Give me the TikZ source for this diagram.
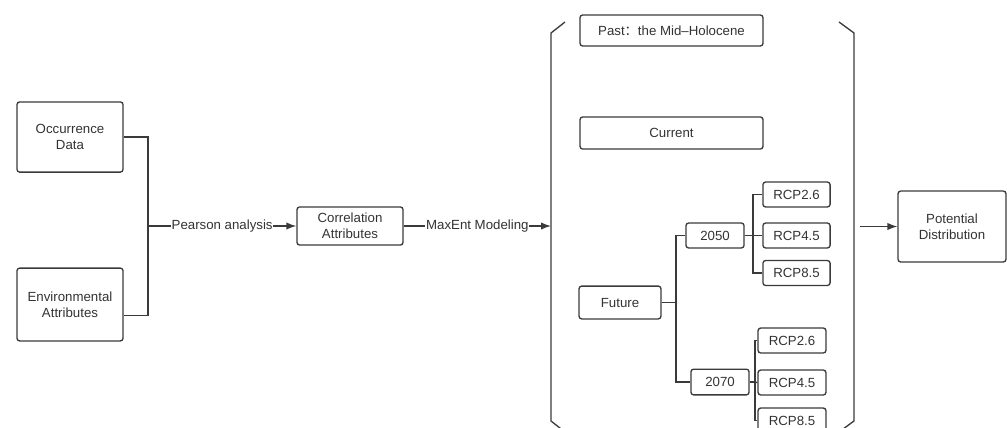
\documentclass[tikz,border=0pt]{standalone}
\usepackage{fontspec}
\setmainfont{Liberation Sans}
\newfontfamily\cjk{Noto Sans CJK SC}
\usetikzlibrary{arrows.meta,calc}
\definecolor{LineClr}{HTML}{3A3A3A}
\definecolor{TextClr}{HTML}{333333}

\begin{document}
\begin{tikzpicture}[x=0.0265cm,y=-0.0265cm,
  line width=1pt,color=LineClr,
  box/.style={draw=LineClr,rounded corners=2pt,align=center,text=TextClr,
    inner sep=0pt,font=\fontsize{10}{12}\selectfont},
  lbl/.style={fill=white,inner sep=0.5pt,text=TextClr,font=\fontsize{10}{12}\selectfont},
  arr/.style={-{Latex[length=7.5pt,width=5.5pt]}}]
\clip (0,0) rectangle (1007,427);

% inputs
\node[box,minimum width=2.81cm,minimum height=1.86cm] (occ) at (70,137) {Occurrence\\Data};
\node[box,minimum width=2.81cm,minimum height=1.93cm] (env) at (70,304.5) {Environmental\\Attributes};
\node[box,minimum width=2.81cm,minimum height=1.01cm] (corr) at (350,226) {Correlation\\Attributes};

\coordinate (join) at (148,226);
\coordinate (brL) at (551,226);
\coordinate (brR) at (860,226.5);

\draw (occ.east) -| (join);
\draw ([yshift=-0.3cm]env.east) -| (join);
\draw[arr] (join) -- node[lbl]{Pearson analysis} (corr.west);
\draw[arr] (corr.east) -- node[lbl]{MaxEnt Modeling} (brL);

% scenarios
\draw (565,22) -- (551,33) -- (551,421) -- (565,432);
\draw (839,22) -- (854,33) -- (854,421) -- (839,432);

\node[box,minimum width=4.85cm,minimum height=0.82cm] (past) at (671.5,30.5) {Past{\cjk ：}the Mid--Holocene};
\node[box,minimum width=4.85cm,minimum height=0.85cm] (cur) at (671.5,133) {Current};
\node[box,minimum width=2.17cm,minimum height=0.87cm] (fut) at (620,302.5) {Future};

\node[box,minimum width=1.54cm,minimum height=0.66cm] (y50) at (715,235.5) {2050};
\node[box,minimum width=1.54cm,minimum height=0.68cm] (y70) at (720,382) {2070};

\node[box,minimum width=1.78cm,minimum height=0.66cm] (r50a) at (796.5,194.5) {RCP2.6};
\node[box,minimum width=1.78cm,minimum height=0.66cm] (r50b) at (796.5,235.5) {RCP4.5};
\node[box,minimum width=1.78cm,minimum height=0.66cm] (r50c) at (796.5,273) {RCP8.5};

\node[box,minimum width=1.8cm,minimum height=0.66cm] (r70a) at (792,340.5) {RCP2.6};
\node[box,minimum width=1.8cm,minimum height=0.66cm] (r70b) at (792,382.5) {RCP4.5};
\node[box,minimum width=1.8cm,minimum height=0.66cm] (r70c) at (792,420.5) {RCP8.5};

\coordinate (fsplit) at (676,302.5);
\coordinate (s50) at (753,235.5);
\coordinate (s70) at (755,382);

\draw (fut.east) -- (fsplit);
\draw (y50.west) -| (fsplit) |- (y70.west);
\draw (y50.east) -- (s50);
\draw (r50a.west) -| (s50) |- (r50c.west);
\draw (s50) -- (r50b.west);
\draw (y70.east) -- (s70);
\draw (r70a.west) -| (s70) |- (r70c.west);
\draw (s70) -- (r70b.west);

% output
\node[box,minimum width=2.86cm,minimum height=1.88cm] (pot) at (952,226.5) {Potential\\Distribution};
\draw[arr] (brR) -- (pot.west);

\end{tikzpicture}
\end{document}
